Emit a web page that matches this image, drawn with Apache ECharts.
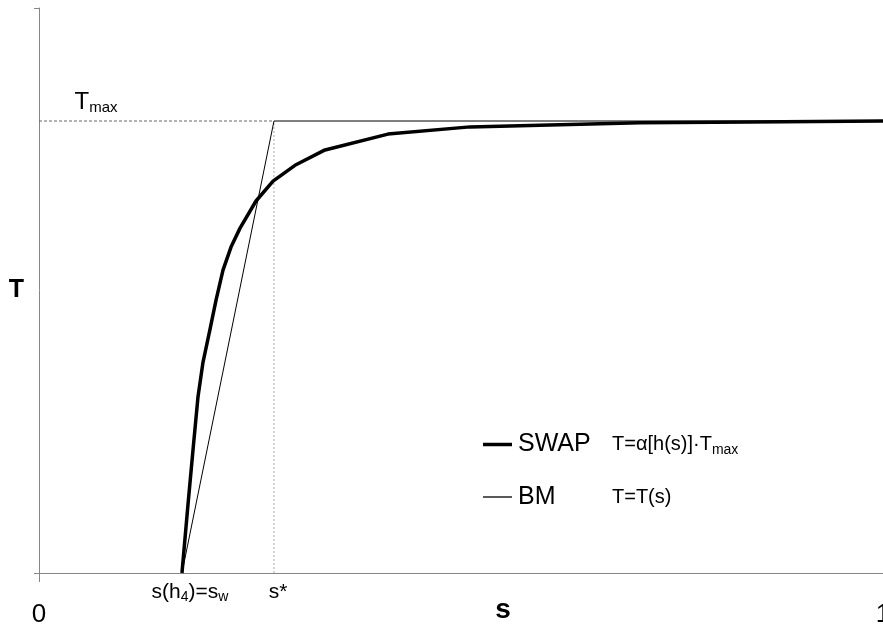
<!DOCTYPE html>
<html>
<head>
<meta charset="utf-8">
<script src="https://cdn.jsdelivr.net/npm/echarts@6/dist/echarts.min.js"></script>
<style>
  html, body { margin: 0; padding: 0; background: #fff; }
  #main { width: 883px; height: 625px; }
</style>
</head>
<body>
<div id="main"></div>
<script>
// SWAP curve T = a[h(s)]*Tmax (T relative to Tmax)
var swapS = [0.1694, 0.1765, 0.1825, 0.1884, 0.1943, 0.2026, 0.2097, 0.2180, 0.2275, 0.2382, 0.2571, 0.2773, 0.3033, 0.3389, 0.4135, 0.5107, 0.7121, 0.8424, 1.0];
var swapT = [0, 0.151, 0.273, 0.390, 0.466, 0.539, 0.603, 0.670, 0.721, 0.763, 0.823, 0.867, 0.902, 0.936, 0.971, 0.987, 0.996, 0.998, 1.0];

// BM: linear from s_w up to s*, then flat at Tmax
var sW = 0.1694;
var sStar = 0.2784;
var tMax = 1;
var bmS = [sW, sStar, 1];
var bmT = [0, tMax, tMax];

// axis ticks
var xTicks = [0, 1];
var yMax = 1.25;

var FONT = '"Liberation Sans", Arial, sans-serif';

function pairs(xs, ys) {
    var out = [];
    for (var i = 0; i < xs.length; i++) out.push([xs[i], ys[i]]);
    return out;
}

var myChart = echarts.init(document.getElementById('main'));

var subRich = {
    a: { fontSize: 21, fontFamily: FONT, color: '#000', lineHeight: 24 },
    b: { fontSize: 14, fontFamily: FONT, color: '#000', lineHeight: 12, verticalAlign: 'bottom' }
};

var option = {
    backgroundColor: '#fff',
    animation: false,
    textStyle: { fontFamily: FONT, color: '#000' },
    grid: { left: 39, right: 0, top: 8, bottom: 52, containLabel: false, outerBoundsMode: 'none' },
    legend: {
        orient: 'vertical',
        left: 483,
        top: 432,
        padding: 0,
        itemWidth: 29,
        itemHeight: 14,
        itemGap: 27,
        selectedMode: false,
        data: [
            { name: 'SWAP', icon: 'path://M0,0H29V3.5H0Z' },
            { name: 'BM', icon: 'path://M0,0H29V1.3H0Z' }
        ],
        formatter: function (name) {
            if (name == 'SWAP') return '{n|SWAP}{f|T=α[h(s)]·T}{s|max}';
            return '{n|BM}{f|T=T(s)}';
        },
        textStyle: {
            padding: [0, 0, 0, 1],
            color: '#000',
            rich: {
                n: { fontSize: 25, fontFamily: FONT, color: '#000', width: 94, lineHeight: 26 },
                f: { fontSize: 20, fontFamily: FONT, color: '#000', lineHeight: 26 },
                s: { fontSize: 14, fontFamily: FONT, color: '#000', lineHeight: 14, verticalAlign: 'bottom' }
            }
        }
    },
    xAxis: {
        type: 'value',
        min: 0,
        max: 1,
        interval: 1,
        name: 's',
        nameLocation: 'middle',
        nameGap: 23,
        nameMoveOverlap: false,
        nameTextStyle: { fontSize: 28, fontWeight: 'bold', color: '#000', padding: [0, 0, 0, 84] },
        axisLine: { onZero: false, lineStyle: { color: '#868686', width: 1 } },
        axisTick: { show: true, length: 9, lineStyle: { color: '#868686' } },
        axisLabel: { show: true, margin: 29, fontSize: 26, color: '#000',
            formatter: function (v) { return xTicks.indexOf(v) >= 0 ? String(v) : ''; } },
        splitLine: { show: false }
    },
    yAxis: {
        type: 'value',
        min: 0,
        max: yMax,
        interval: yMax,
        name: 'T',
        nameLocation: 'middle',
        nameGap: 15,
        nameRotate: 0,
        nameMoveOverlap: false,
        nameTextStyle: { fontSize: 25, fontWeight: 'bold', color: '#000' },
        axisLine: { show: true, lineStyle: { color: '#868686', width: 1 } },
        axisTick: { show: true, length: 5, lineStyle: { color: '#868686' } },
        axisLabel: { show: false },
        splitLine: { show: false }
    },
    series: [
        {
            name: 'Tmax guide',
            type: 'line',
            data: pairs([0, sStar], [tMax, tMax]),
            showSymbol: false,
            silent: true,
            lineStyle: { color: '#666', width: 1, type: [3, 2] },
            z: 1
        },
        {
            name: 's* guide',
            type: 'line',
            data: pairs([sStar, sStar], [0, tMax]),
            showSymbol: false,
            silent: true,
            lineStyle: { color: '#aaa', width: 1, type: [2, 2] },
            z: 1
        },
        {
            name: 'BM',
            type: 'line',
            data: pairs(bmS, bmT),
            showSymbol: false,
            color: '#000',
            lineStyle: { color: '#000', width: 1 },
            z: 3
        },
        {
            name: 'SWAP',
            type: 'line',
            data: pairs(swapS, swapT),
            showSymbol: false,
            color: '#000',
            lineStyle: { color: '#000', width: 3.5, join: 'round' },
            z: 4
        },
        {
            name: 'labels',
            type: 'scatter',
            symbolSize: 0,
            silent: true,
            z: 5,
            itemStyle: { color: '#000', opacity: 1 },
            label: { color: '#000' },
            data: [
                { value: [sW, 0], label: { show: true, position: 'inside', offset: [8, 19], color: '#000',
                    formatter: '{a|s(h}{b|4}{a|)=s}{b|w}', rich: subRich } },
                { value: [sStar, 0], label: { show: true, position: 'inside', offset: [4, 19], color: '#000',
                    formatter: '{a|s*}', rich: subRich } },
                { value: [0, tMax], label: { show: true, position: 'inside', offset: [57, -19], color: '#000',
                    formatter: '{t|T}{m|max}',
                    rich: {
                        t: { fontSize: 24, fontFamily: FONT, color: '#000', lineHeight: 26 },
                        m: { fontSize: 15, fontFamily: FONT, color: '#000', lineHeight: 14, verticalAlign: 'bottom' }
                    } } }
            ]
        }
    ]
};

myChart.setOption(option);
</script>
</body>
</html>
